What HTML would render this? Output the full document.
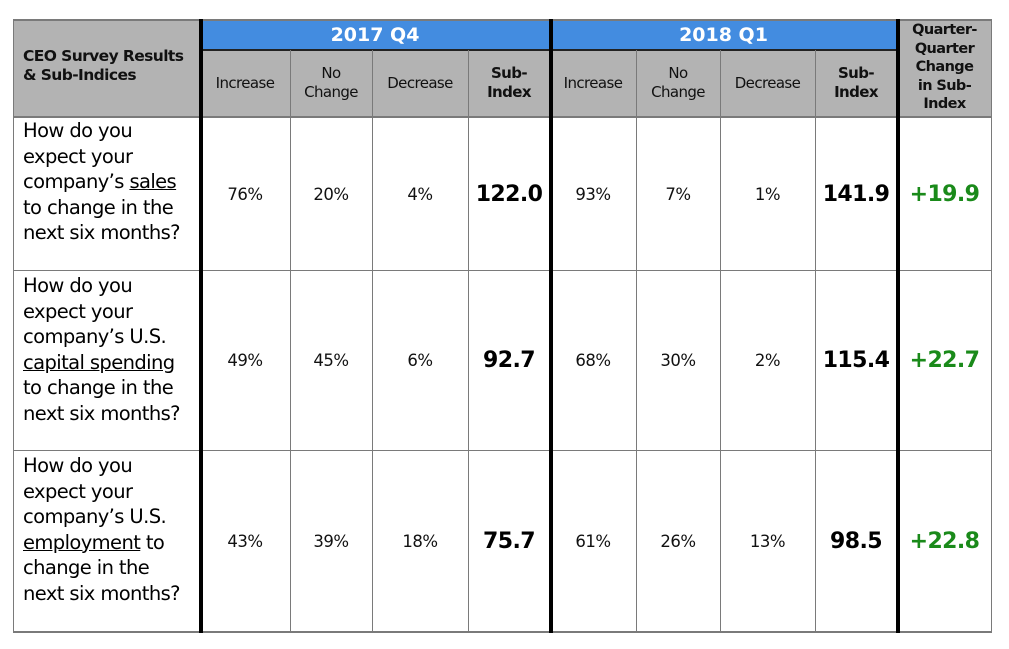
<!DOCTYPE html>
<html><head><meta charset="utf-8"><style>
body{margin:0;width:1009px;height:649px;background:#fff;position:relative;overflow:hidden;font-family:"DejaVu Sans","Liberation Sans",sans-serif;}
div{position:absolute;box-sizing:border-box;}
.h{background:#b3b3b3;}
.c{display:flex;align-items:center;justify-content:center;text-align:center;}
.vl{background:#7a7a7a;width:1px;}
.hl{background:#7a7a7a;height:1px;}
.tk{background:#000;width:4px;}
.hd{font-size:15px;color:#111;line-height:19px;letter-spacing:-0.6px}
.num{font-size:16.5px;color:#111;letter-spacing:-0.5px}
.big{font-size:22px;font-weight:bold;color:#000;letter-spacing:-0.6px}
.grn{font-size:22px;font-weight:bold;color:#1a8a1a;letter-spacing:-0.6px}
.q{left:23px;font-size:19.5px;line-height:25.5px;color:#000;letter-spacing:-0.6px;white-space:nowrap}
</style></head><body>
<div class="h" style="left:13px;top:19px;width:979px;height:97px"></div>
<div style="left:200px;top:19px;width:697px;height:31px;background:#438ce0"></div>
<div class="c" style="left:200px;top:19px;width:350px;height:31px;color:#fff;font-weight:bold;font-size:19px">2017 Q4</div>
<div class="c" style="left:550px;top:19px;width:347px;height:31px;color:#fff;font-weight:bold;font-size:19px">2018 Q1</div>
<div style="left:200px;top:49px;width:697px;height:2px;background:#222"></div>
<div style="left:23px;top:47px;font-size:15.5px;font-weight:bold;line-height:19px;color:#111;letter-spacing:-0.6px">CEO Survey Results<br>&amp; Sub-Indices</div>
<div class="c hd" style="left:200px;top:50px;width:90px;height:66px">Increase</div>
<div class="c hd" style="left:290px;top:50px;width:82px;height:66px">No<br>Change</div>
<div class="c hd" style="left:372px;top:50px;width:96px;height:66px">Decrease</div>
<div class="c hd" style="left:468px;top:50px;width:82px;height:66px;font-weight:bold">Sub-<br>Index</div>
<div class="c hd" style="left:550px;top:50px;width:86px;height:66px">Increase</div>
<div class="c hd" style="left:636px;top:50px;width:84px;height:66px">No<br>Change</div>
<div class="c hd" style="left:720px;top:50px;width:95px;height:66px">Decrease</div>
<div class="c hd" style="left:815px;top:50px;width:82px;height:66px;font-weight:bold">Sub-<br>Index</div>
<div class="c hd" style="left:897px;top:19px;width:95px;height:97px;font-weight:bold;font-size:14.5px;line-height:18.5px">Quarter-<br>Quarter<br>Change<br>in Sub-<br>Index</div>
<div class="hl" style="left:13px;top:19px;width:979px;height:2px"></div>
<div class="hl" style="left:13px;top:116px;width:979px;height:2px"></div>
<div class="hl" style="left:13px;top:270px;width:979px"></div>
<div class="hl" style="left:13px;top:450px;width:979px"></div>
<div class="hl" style="left:13px;top:631px;width:979px;height:2px"></div>
<div class="vl" style="left:13px;top:19px;height:614px"></div>
<div class="vl" style="left:991px;top:19px;height:614px"></div>
<div class="vl" style="left:290px;top:50px;height:583px"></div>
<div class="vl" style="left:372px;top:50px;height:583px"></div>
<div class="vl" style="left:468px;top:50px;height:583px"></div>
<div class="vl" style="left:636px;top:50px;height:583px"></div>
<div class="vl" style="left:720px;top:50px;height:583px"></div>
<div class="vl" style="left:815px;top:50px;height:583px"></div>
<div class="tk" style="left:199px;top:19px;height:614px"></div>
<div class="tk" style="left:549px;top:19px;height:614px"></div>
<div class="tk" style="left:896px;top:19px;height:614px"></div>
<div class="q" style="top:118px">How do you<br>expect your<br>company’s <u>sales</u><br>to change in the<br>next six months?</div>
<div class="q" style="top:273px">How do you<br>expect your<br>company’s U.S.<br><u>capital spending</u><br>to change in the<br>next six months?</div>
<div class="q" style="top:453px">How do you<br>expect your<br>company’s U.S.<br><u>employment</u> to<br>change in the<br>next six months?</div>
<div class="c num" style="left:200px;top:118px;width:90px;height:152px">76%</div>
<div class="c num" style="left:290px;top:118px;width:82px;height:152px">20%</div>
<div class="c num" style="left:372px;top:118px;width:96px;height:152px">4%</div>
<div class="c big" style="left:468px;top:118px;width:82px;height:152px">122.0</div>
<div class="c num" style="left:550px;top:118px;width:86px;height:152px">93%</div>
<div class="c num" style="left:636px;top:118px;width:84px;height:152px">7%</div>
<div class="c num" style="left:720px;top:118px;width:95px;height:152px">1%</div>
<div class="c big" style="left:815px;top:118px;width:82px;height:152px">141.9</div>
<div class="c grn" style="left:897px;top:118px;width:95px;height:152px">+19.9</div>
<div class="c num" style="left:200px;top:271px;width:90px;height:179px">49%</div>
<div class="c num" style="left:290px;top:271px;width:82px;height:179px">45%</div>
<div class="c num" style="left:372px;top:271px;width:96px;height:179px">6%</div>
<div class="c big" style="left:468px;top:271px;width:82px;height:179px">92.7</div>
<div class="c num" style="left:550px;top:271px;width:86px;height:179px">68%</div>
<div class="c num" style="left:636px;top:271px;width:84px;height:179px">30%</div>
<div class="c num" style="left:720px;top:271px;width:95px;height:179px">2%</div>
<div class="c big" style="left:815px;top:271px;width:82px;height:179px">115.4</div>
<div class="c grn" style="left:897px;top:271px;width:95px;height:179px">+22.7</div>
<div class="c num" style="left:200px;top:451px;width:90px;height:181px">43%</div>
<div class="c num" style="left:290px;top:451px;width:82px;height:181px">39%</div>
<div class="c num" style="left:372px;top:451px;width:96px;height:181px">18%</div>
<div class="c big" style="left:468px;top:451px;width:82px;height:181px">75.7</div>
<div class="c num" style="left:550px;top:451px;width:86px;height:181px">61%</div>
<div class="c num" style="left:636px;top:451px;width:84px;height:181px">26%</div>
<div class="c num" style="left:720px;top:451px;width:95px;height:181px">13%</div>
<div class="c big" style="left:815px;top:451px;width:82px;height:181px">98.5</div>
<div class="c grn" style="left:897px;top:451px;width:95px;height:181px">+22.8</div>
</body></html>
